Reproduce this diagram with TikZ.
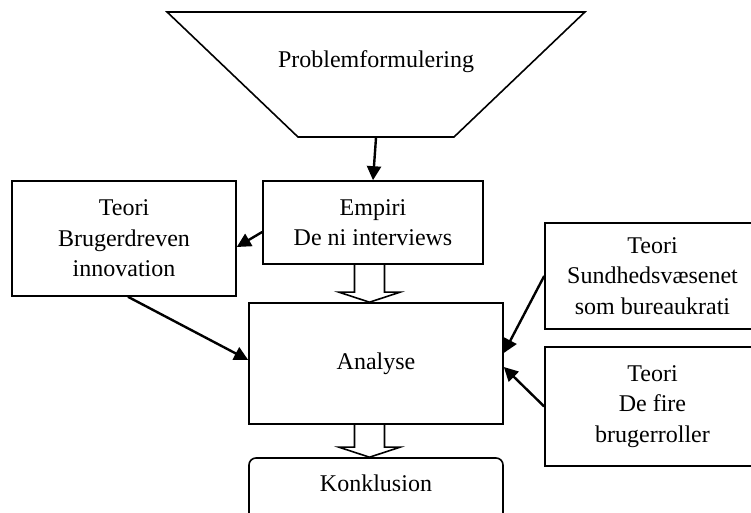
\documentclass[tikz,border=0pt]{standalone}
\usepackage{fontspec}
\setmainfont{Liberation Serif}
\usetikzlibrary{shapes.geometric,arrows.meta}
\tikzset{
  box/.style={draw, line width=0.8pt, inner sep=0pt, align=center,
    font=\fontsize{12}{15.3}\selectfont},
  link/.style={line width=1.2pt, -{Triangle[length=7pt,width=7pt]}},
  fat/.style={line width=0.8pt, line join=miter}
}
% hollow arrow: tip, shaft length
\newcommand{\fatarrow}[2]{\draw[fat] #1 -- ++(-30.5,-10) -- ++(15.5,0) -- ++(0,-#2)
  ++(30,0) -- ++(0,#2) -- ++(15.5,0) -- #1;}
\begin{document}
\begin{tikzpicture}[x=0.5pt,y=-0.5pt]
\clip (0,0) rectangle (751,513);
\node (prob) [box, inner sep=2pt, trapezium, trapezium stretches=true, shape border rotate=180,
  trapezium left angle=50, trapezium right angle=50,
  minimum width=209pt, minimum height=62.5pt,
  label={[yshift=6.25pt,font=\fontsize{12}{15.3}\selectfont]center:Problemformulering}]
  at (376,74.5) {};
\node (empiri) [box, minimum width=110pt, minimum height=41.5pt] at (373,222.5)
  {Empiri\\De ni interviews};
\node (teori1) [box, minimum width=112pt, minimum height=57.5pt] at (124,238.5)
  {Teori\\Brugerdreven\\innovation};
\node (analyse) [box, minimum width=127pt, minimum height=60.5pt] at (376,363.5)
  {Analyse};
\node (konkl) [box, rounded corners=3.5pt, minimum width=127pt, minimum height=36pt,
  label={[yshift=5.5pt,font=\fontsize{12}{15.3}\selectfont]center:Konklusion}]
  at (376,494) {};
\node (teori2) [box, minimum width=107.5pt, minimum height=53pt] at (652.5,276)
  {Teori\\Sundhedsvæsenet\\som bureaukrati};
\node (teori3) [box, minimum width=107.5pt, minimum height=59.5pt] at (652.5,406.5)
  {Teori\\De fire\\brugerroller};

\draw[link] (prob.south) -- (empiri.north);
\draw[link] ([yshift=-4.75pt]empiri.west) -- ([yshift=-4.25pt]teori1.east);
\draw[link] ([xshift=2pt]teori1.south) -- ([yshift=1.75pt]analyse.west);
\draw[link] (teori2.west) -- ([yshift=5.25pt]analyse.east);
\draw[link] (teori3.west) -- ([yshift=-1.75pt]analyse.east);

\fatarrow{([xshift=-3.25pt]analyse.north)}{29}
\fatarrow{([xshift=-3.25pt]konkl.north)}{24}
\end{tikzpicture}
\end{document}
